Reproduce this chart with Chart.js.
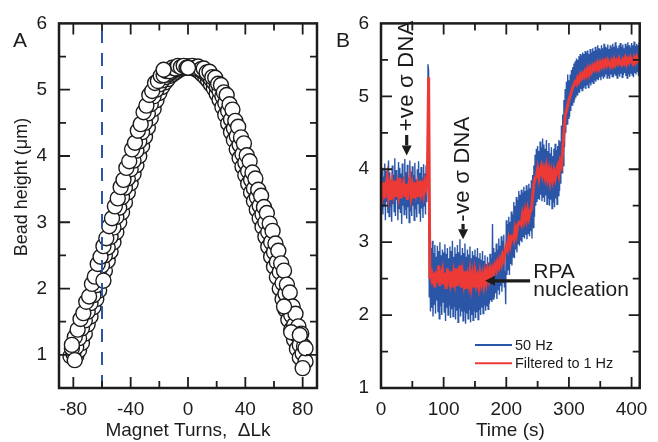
<!DOCTYPE html>
<html>
<head>
<meta charset="utf-8">
<script src="https://cdn.jsdelivr.net/npm/chart.js@4.4.1/dist/chart.umd.min.js"></script>
<style>
  html, body { margin: 0; padding: 0; background: #fff; }
  #wrap { position: relative; width: 658px; height: 442px; overflow: hidden; }
  #chartA { position: absolute; left: 0; top: 0; }
  #chartB { position: absolute; left: 330px; top: 0; }
</style>
</head>
<body>
<div id="wrap">
  <canvas id="chartA" width="330" height="442"></canvas>
  <canvas id="chartB" width="328" height="442"></canvas>
</div>
<script>
// ---------- Panel A: bead height vs magnet turns ----------
const turnStep = 2;
const sweepMidStart = -82;   // even turns, -82 .. 82
const sweepMidHeights = [
  0.98, 1.02, 1.12, 1.25, 1.40, 1.52, 1.65, 1.78, 1.90, 2.05, 2.20, 2.35, 2.50, 2.62,
  2.78, 2.92, 3.08, 3.22, 3.38, 3.52, 3.66, 3.80, 3.93, 4.08, 4.22, 4.36, 4.50, 4.64,
  4.78, 4.90, 5.00, 5.08, 5.14, 5.19, 5.23, 5.26, 5.29, 5.31, 5.33, 5.34, 5.35, 5.35,
  5.35, 5.34, 5.33, 5.31, 5.28, 5.25, 5.21, 5.16, 5.11, 5.05, 4.98, 4.90, 4.80, 4.68,
  4.55, 4.42, 4.30, 4.17, 4.03, 3.90, 3.77, 3.64, 3.51, 3.38, 3.25, 3.12, 3.00, 2.85,
  2.70, 2.55, 2.40, 2.25, 2.08, 1.92, 1.75, 1.60, 1.45, 1.30, 1.15, 1.02, 0.90
];
const sweepOuterStart = -81; // odd turns, -81 .. 81
const sweepOuterHeights = [
  1.10, 1.27, 1.38, 1.54, 1.63, 1.80, 1.88, 2.07, 2.18, 2.37, 2.48, 2.64, 2.76, 2.94,
  3.06, 3.24, 3.36, 3.53, 3.64, 3.82, 3.92, 4.10, 4.20, 4.38, 4.48, 4.66, 4.76, 4.92,
  4.98, 5.10, 5.13, 5.21, 5.22, 5.28, 5.28, 5.33, 5.32, 5.36, 5.34, 5.36, 5.33,
  5.34, 5.36, 5.33, 5.35, 5.31, 5.32, 5.26, 5.27, 5.19, 5.18, 5.09, 5.07, 4.96, 4.92,
  4.78, 4.70, 4.53, 4.44, 4.28, 4.19, 4.01, 3.92, 3.75, 3.66, 3.49, 3.40, 3.23, 3.14,
  2.98, 2.87, 2.68, 2.57, 2.38, 2.27, 2.06, 1.94, 1.73, 1.62, 1.43, 1.32, 1.13
];
const sweepInnerStart = -78; // even turns, -78 .. 78
const sweepInnerHeights = [
  0.98, 1.07, 1.18, 1.32, 1.46, 1.58, 1.72, 1.84, 1.97, 2.12, 2.27, 2.42, 2.56, 2.70,
  2.85, 3.00, 3.15, 3.30, 3.45, 3.59, 3.73, 3.86, 4.00, 4.15, 4.29, 4.43, 4.57, 4.71,
  4.84, 4.95, 5.04, 5.11, 5.16, 5.21, 5.24, 5.27, 5.30, 5.32, 5.33, 5.34,
  5.33, 5.32, 5.30, 5.27, 5.23, 5.19, 5.14, 5.08, 5.02, 4.94, 4.85, 4.74, 4.62, 4.49,
  4.36, 4.24, 4.10, 3.97, 3.84, 3.71, 3.58, 3.45, 3.32, 3.19, 3.06, 2.93, 2.78, 2.63,
  2.48, 2.33, 2.17, 2.00, 1.84, 1.68, 1.53, 1.38, 1.23, 1.09, 0.96
];
const strayTurns   = [-81, -79, -59, -17, 67, 72, 78, 80, 82, 0];
const strayHeights = [1.15, 0.92, 2.12, 5.30, 1.73, 1.34, 1.30, 0.80, 1.10, 5.33];
const markerTurn = -60;

const turnTicks = [-80, -60, -40, -20, 0, 20, 40, 60, 80];
const turnLabels = [-80, -40, 0, 40, 80];
const heightTicksA = [1, 1.5, 2, 2.5, 3, 3.5, 4, 4.5, 5, 5.5, 6];
const heightLabels = [1, 2, 3, 4, 5, 6];

// ---------- Panel B: bead height vs time ----------
const rawStep = 1;   // s, 50 Hz trace shown once per second
const rawHeights = [
  3.95, 3.45, 4.02, 3.38, 3.90, 3.50, 4.08, 3.30, 3.98, 3.55,
  3.88, 3.40, 4.12, 3.35, 3.96, 3.48, 3.85, 3.28, 4.05, 3.52,
  3.92, 3.42, 4.15, 3.36, 3.99, 3.58, 3.86, 3.30, 4.10, 3.46,
  4.02, 3.40, 3.94, 3.25, 4.08, 3.50, 3.90, 3.38, 4.14, 3.44,
  3.96, 3.32, 4.06, 3.48, 3.88, 3.27, 4.12, 3.42, 3.97, 3.36,
  4.04, 3.50, 3.92, 3.30, 4.09, 3.45, 3.86, 3.34, 4.00, 3.52,
  4.11, 3.40, 3.95, 3.28, 4.03, 3.46, 3.89, 3.33, 4.07, 3.50,
  3.94, 3.38, 4.05, 3.55, 3.98, 5.44, 5.35, 2.25, 2.90, 2.05,
  2.92, 2.10, 3.02, 1.98, 2.85, 2.15, 2.96, 2.02, 2.80, 2.20,
  2.95, 2.05, 2.88, 1.95, 3.00, 2.12, 2.82, 2.00, 2.90, 2.18,
  2.86, 2.04, 2.97, 1.92, 2.84, 2.10, 2.92, 2.00, 2.78, 2.14,
  2.94, 1.96, 2.88, 2.08, 3.02, 1.98, 2.80, 2.12, 2.93, 1.94,
  2.84, 2.06, 2.96, 1.90, 2.86, 2.10, 3.04, 1.98, 2.82, 2.05,
  2.92, 1.92, 2.85, 2.06, 2.98, 1.88, 2.80, 2.02, 2.90, 1.95,
  2.83, 2.08, 2.94, 1.90, 2.78, 2.00, 2.88, 1.93, 2.82, 2.06,
  2.90, 1.96, 2.80, 2.04, 2.92, 1.94, 2.78, 2.08, 2.85, 2.00,
  2.76, 2.10, 2.88, 2.02, 2.74, 2.14, 2.82, 2.06, 2.70, 2.12,
  2.80, 2.08, 2.72, 2.16, 2.84, 2.20, 2.78, 2.18, 3.25, 2.22,
  2.92, 2.24, 2.86, 2.30, 2.98, 2.22, 2.90, 2.35, 3.05, 2.28,
  2.95, 2.40, 3.08, 2.32, 3.02, 2.45, 3.10, 2.38, 2.60, 2.15,
  3.30, 2.55, 3.25, 2.62, 3.35, 2.55, 3.28, 2.70, 3.42, 2.68,
  3.38, 2.80, 3.55, 2.78, 3.50, 2.90, 3.62, 2.86, 3.58, 2.98,
  3.70, 2.95, 3.65, 3.02, 3.72, 3.00, 3.68, 3.08, 3.76, 3.05,
  3.70, 3.10, 3.78, 3.04, 3.72, 3.12, 3.80, 3.08, 3.74, 3.15,
  3.85, 3.05, 3.92, 3.20, 4.05, 3.35, 4.20, 3.50, 4.28, 3.55,
  4.32, 3.60, 4.25, 3.58, 4.38, 3.65, 4.30, 3.56, 4.42, 3.62,
  4.34, 3.55, 4.28, 3.64, 4.40, 3.52, 4.25, 3.60, 4.36, 3.50,
  4.22, 3.58, 4.30, 3.46, 4.18, 3.55, 4.28, 3.48, 4.35, 3.60,
  4.26, 3.52, 4.32, 3.64, 4.40, 3.70, 4.38, 3.80, 4.60, 3.95,
  4.75, 4.05, 4.95, 4.30, 5.10, 4.50, 5.20, 4.62, 5.30, 4.70,
  5.22, 4.72, 5.30, 4.80, 5.36, 4.88, 5.40, 4.92, 5.45, 4.95,
  5.48, 4.98, 5.52, 5.02, 5.50, 5.06, 5.55, 5.05, 5.58, 5.10,
  5.56, 5.08, 5.60, 5.12, 5.58, 5.14, 5.62, 5.10, 5.60, 5.16,
  5.63, 5.12, 5.58, 5.18, 5.65, 5.15, 5.60, 5.20, 5.66, 5.18,
  5.62, 5.22, 5.68, 5.20, 5.64, 5.24, 5.70, 5.22, 5.66, 5.26,
  5.64, 5.22, 5.70, 5.28, 5.66, 5.24, 5.72, 5.26, 5.68, 5.30,
  5.66, 5.25, 5.71, 5.28, 5.65, 5.24, 5.70, 5.30, 5.67, 5.27,
  5.72, 5.26, 5.68, 5.30, 5.74, 5.28, 5.69, 5.25, 5.66, 5.30,
  5.70, 5.27, 5.73, 5.31, 5.68, 5.26, 5.71, 5.29, 5.66, 5.32,
  5.72, 5.28, 5.69, 5.25, 5.74, 5.30, 5.70, 5.27, 5.67, 5.31,
  5.73, 5.29, 5.70, 5.26, 5.75, 5.32, 5.69, 5.30, 5.72, 5.34,
  5.70, 5.28, 5.74, 5.33
];
const filtStep = 2;  // s
const filtHeights = [
  3.72, 3.64, 3.82, 3.60, 3.76, 3.88, 3.64, 3.76, 3.58, 3.80,
  3.68, 3.84, 3.62, 3.78, 3.66, 3.88, 3.60, 3.76, 3.82, 3.62,
  3.80, 3.58, 3.74, 3.86, 3.64, 3.76, 3.60, 3.82, 3.68, 3.78,
  3.62, 3.84, 3.68, 3.77, 3.66, 3.82, 3.74,
  3.85, 5.26, 2.50,
  2.64, 2.42, 2.58, 2.38, 2.60, 2.45, 2.68, 2.40, 2.55, 2.62,
  2.42, 2.58, 2.36, 2.64, 2.48, 2.42, 2.60, 2.38, 2.57, 2.46,
  2.64, 2.40, 2.54, 2.68, 2.38, 2.57, 2.44, 2.60, 2.36, 2.52,
  2.42, 2.58, 2.40, 2.54, 2.38, 2.57, 2.43, 2.52, 2.40, 2.56,
  2.44, 2.54, 2.42, 2.57, 2.46, 2.60, 2.50, 2.62, 2.54, 2.64,
  2.58, 2.68, 2.62, 2.72, 2.66, 2.76, 2.70, 2.82, 2.76, 2.87,
  2.95, 2.90, 3.04, 2.96, 3.08, 3.08, 3.03, 3.18, 3.10, 3.22,
  3.27, 3.28, 3.24, 3.38, 3.30, 3.42, 3.32, 3.44, 3.34, 3.42,
  3.45, 3.62, 3.80, 3.88, 3.90, 4.00, 3.88, 3.98, 4.04, 3.92,
  4.00, 3.90, 4.02, 3.88, 3.98, 3.84, 3.96, 3.86, 3.97, 3.88,
  3.98, 4.04, 3.94, 4.10, 4.05, 4.25, 4.50, 4.72, 4.80, 4.88,
  4.95, 5.00, 5.06, 5.12, 5.16, 5.20, 5.17, 5.25, 5.21, 5.29,
  5.25, 5.31, 5.27, 5.34, 5.29, 5.37, 5.31, 5.39, 5.34, 5.41,
  5.37, 5.43, 5.38, 5.45, 5.39, 5.46, 5.41, 5.47, 5.42, 5.48,
  5.43, 5.49, 5.44, 5.41, 5.48, 5.43, 5.50, 5.44, 5.49, 5.45,
  5.51, 5.45, 5.43, 5.50, 5.46, 5.52, 5.45, 5.51, 5.47, 5.53,
  5.48, 5.45, 5.52, 5.47, 5.54, 5.49, 5.52
];
const timeTicks = [0, 50, 100, 150, 200, 250, 300, 350, 400];
const timeLabels = [0, 100, 200, 300, 400];
const heightTicksB = [1, 1.5, 2, 2.5, 3, 3.5, 4, 4.5, 5, 5.5, 6];

const FONT = "'Liberation Sans', Arial, Helvetica, sans-serif";
const INK = '#1c1c1c';
const BLUE = '#2b56a8';
const RED = '#ee3a36';
Chart.defaults.font.family = FONT;
Chart.defaults.color = INK;

// inward ticks on all four sides plus the box frame
const frameTicks = {
  id: 'frameTicks',
  afterDraw(chart, args, opts) {
    const { ctx, chartArea: a } = chart;
    const xs = chart.scales.x, ys = chart.scales.y;
    ctx.save();
    ctx.strokeStyle = INK;
    ctx.lineWidth = 1.8;
    ctx.beginPath();
    xs.ticks.forEach(t => {
      const px = xs.getPixelForValue(t.value);
      if (px <= a.left + 1 || px >= a.right - 1) return;
      const len = opts.xMajor.includes(t.value) ? 11 : 7;
      ctx.moveTo(px, a.bottom); ctx.lineTo(px, a.bottom - len);
      ctx.moveTo(px, a.top); ctx.lineTo(px, a.top + len);
    });
    ys.ticks.forEach(t => {
      const py = ys.getPixelForValue(t.value);
      if (py <= a.top + 1 || py >= a.bottom - 1) return;
      const len = opts.yMajor.includes(t.value) ? 11 : 7;
      ctx.moveTo(a.left, py); ctx.lineTo(a.left + len, py);
      ctx.moveTo(a.right, py); ctx.lineTo(a.right - len, py);
    });
    ctx.stroke();
    ctx.lineWidth = 2.5;
    ctx.strokeRect(a.left, a.top, a.right - a.left, a.bottom - a.top);
    ctx.restore();
  }
};

function fixedTicks(values) {
  return scale => { scale.ticks = values.map(v => ({ value: v })); };
}
function labelIf(list) {
  return value => (list.includes(value) ? String(value) : '');
}

function drawArrow(ctx, x1, y1, x2, y2) {
  const ang = Math.atan2(y2 - y1, x2 - x1);
  const head = 10, half = 5;
  const bx = x2 - head * Math.cos(ang), by = y2 - head * Math.sin(ang);
  ctx.lineWidth = 3.2;
  ctx.beginPath(); ctx.moveTo(x1, y1); ctx.lineTo(bx, by); ctx.stroke();
  ctx.beginPath();
  ctx.moveTo(x2, y2);
  ctx.lineTo(bx - half * Math.sin(ang), by + half * Math.cos(ang));
  ctx.lineTo(bx + half * Math.sin(ang), by - half * Math.cos(ang));
  ctx.closePath(); ctx.fill();
}

// panel letter, y title (A), annotations and legend (B)
const panelText = {
  id: 'panelText',
  afterDatasetsDraw(chart, args, opts) {
    const { ctx } = chart;
    const xs = chart.scales.x, ys = chart.scales.y;
    ctx.save();
    ctx.fillStyle = INK;
    ctx.strokeStyle = INK;
    ctx.textBaseline = 'alphabetic';
    ctx.textAlign = 'left';
    ctx.font = `21px ${FONT}`;
    ctx.fillText(opts.letter, opts.letterX, 47);

    if (opts.yTitle) {
      ctx.save();
      ctx.translate(22, 187);
      ctx.rotate(-Math.PI / 2);
      ctx.font = `18px ${FONT}`;
      ctx.textAlign = 'center';
      ctx.textBaseline = 'middle';
      ctx.fillText(opts.yTitle, 0, 0);
      ctx.restore();
    }

    (opts.vNotes || []).forEach(n => {
      const px = xs.getPixelForValue(n.t);
      ctx.save();
      ctx.translate(px, ys.getPixelForValue(n.textFrom));
      ctx.rotate(-Math.PI / 2);
      ctx.font = `22px ${FONT}`;
      ctx.letterSpacing = '0.3px';
      ctx.textAlign = 'left';
      ctx.textBaseline = 'middle';
      ctx.fillText(n.text, 0, 0);
      ctx.restore();
      drawArrow(ctx, px, ys.getPixelForValue(n.tail), px, ys.getPixelForValue(n.tip));
    });

    (opts.hNotes || []).forEach(n => {
      ctx.font = `21px ${FONT}`;
      ctx.textAlign = 'left';
      ctx.textBaseline = 'alphabetic';
      const tx = xs.getPixelForValue(n.t);
      n.lines.forEach((line, i) => {
        ctx.fillText(line, tx, ys.getPixelForValue(n.baseline) + i * 18.5);
      });
      const ay = ys.getPixelForValue(n.at);
      drawArrow(ctx, xs.getPixelForValue(n.tail), ay, xs.getPixelForValue(n.tip), ay);
    });

    if (opts.legend) {
      const a = chart.chartArea;
      ctx.font = `14.5px ${FONT}`;
      ctx.textBaseline = 'middle';
      ctx.textAlign = 'left';
      const sets = chart.data.datasets.slice().sort((p, q) => q.order - p.order);
      sets.forEach((ds, i) => {
        const y = a.bottom - 43 + i * 18.3;
        const x0 = a.left + 94;
        ctx.strokeStyle = ds.borderColor;
        ctx.lineWidth = 2;
        ctx.beginPath(); ctx.moveTo(x0, y); ctx.lineTo(x0 + 37, y); ctx.stroke();
        ctx.fillStyle = INK;
        ctx.fillText(ds.label, x0 + 40, y + 0.5);
      });
    }
    ctx.restore();
  }
};

function axisFont(size) { return { family: FONT, size: size }; }

// ---------- chart A ----------
const pointsA = [];
sweepInnerHeights.forEach((h, i) => pointsA.push({ x: sweepInnerStart + i * turnStep, y: h }));
sweepMidHeights.forEach((h, i) => pointsA.push({ x: sweepMidStart + i * turnStep, y: h }));
sweepOuterHeights.forEach((h, i) => pointsA.push({ x: sweepOuterStart + i * turnStep, y: h }));
strayTurns.forEach((t, i) => pointsA.push({ x: t, y: strayHeights[i] }));

new Chart(document.getElementById('chartA'), {
  type: 'scatter',
  data: {
    datasets: [
      {
        label: 'marker',
        type: 'line',
        data: [{ x: markerTurn, y: 0.5 }, { x: markerTurn, y: 6 }],
        borderColor: BLUE,
        borderWidth: 2,
        borderDash: [13, 10],
        pointRadius: 0,
        order: 0
      },
      {
        label: 'Bead height',
        data: pointsA,
        pointRadius: 7.5,
        pointBackgroundColor: '#ffffff',
        pointBorderColor: INK,
        pointBorderWidth: 1.4,
        order: 1
      }
    ]
  },
  plugins: [frameTicks, panelText],
  options: {
    responsive: false,
    animation: false,
    layout: { padding: { left: 0, right: 13, top: 15, bottom: 0 } },
    plugins: {
      legend: { display: false },
      tooltip: { enabled: false },
      frameTicks: { xMajor: turnLabels, yMajor: heightLabels },
      panelText: { letter: 'A', letterX: 13, yTitle: 'Bead height (\u03BCm)' }
    },
    scales: {
      x: {
        type: 'linear', min: -90, max: 90,
        afterBuildTicks: fixedTicks(turnTicks),
        afterFit: s => { s.height = 54; },
        grid: { display: false, drawTicks: false },
        border: { display: false },
        ticks: { callback: labelIf(turnLabels), padding: 10, autoSkip: false, maxRotation: 0, font: axisFont(19), color: INK },
        title: { display: true, text: 'Magnet Turns,  \u0394Lk', font: axisFont(19), color: INK, padding: { top: 0, bottom: 0 } }
      },
      y: {
        type: 'linear', min: 0.5, max: 6,
        afterBuildTicks: fixedTicks(heightTicksA),
        afterFit: s => { s.width = 59; },
        grid: { display: false, drawTicks: false },
        border: { display: false },
        ticks: { callback: labelIf(heightLabels), padding: 12, autoSkip: false, font: axisFont(19), color: INK }
      }
    }
  }
});

// ---------- chart B ----------
const rawPoints = rawHeights.map((h, i) => ({ x: i * rawStep, y: h }));
const filtPoints = filtHeights.map((h, i) => ({ x: i * filtStep, y: h }));

new Chart(document.getElementById('chartB'), {
  type: 'line',
  data: {
    datasets: [
      { label: '50 Hz', data: rawPoints, borderColor: BLUE, borderWidth: 1.4, pointRadius: 0, tension: 0, order: 1 },
      { label: 'Filtered to 1 Hz', data: filtPoints, borderColor: RED, borderWidth: 3, pointRadius: 0, tension: 0, order: 0 }
    ]
  },
  plugins: [frameTicks, panelText],
  options: {
    responsive: false,
    animation: false,
    layout: { padding: { left: 0, right: 18, top: 15, bottom: 0 } },
    plugins: {
      legend: { display: false },
      tooltip: { enabled: false },
      frameTicks: { xMajor: timeLabels, yMajor: heightLabels },
      panelText: {
        letter: 'B', letterX: 6, legend: true,
        vNotes: [
          { text: '+ve \u03C3 DNA', t: 41, textFrom: 4.52, tail: 4.47, tip: 4.19 },
          { text: '-ve \u03C3 DNA', t: 131, textFrom: 3.28, tail: 3.25, tip: 3.04 }
        ],
        hNotes: [
          { lines: ['RPA', 'nucleation'], t: 243, baseline: 2.515, at: 2.47, tail: 238, tip: 166 }
        ]
      }
    },
    scales: {
      x: {
        type: 'linear', min: 0, max: 413,
        afterBuildTicks: fixedTicks(timeTicks),
        afterFit: s => { s.height = 54; },
        grid: { display: false, drawTicks: false },
        border: { display: false },
        ticks: { callback: labelIf(timeLabels), padding: 10, autoSkip: false, maxRotation: 0, font: axisFont(19), color: INK },
        title: { display: true, text: 'Time (s)', font: axisFont(19), color: INK, padding: { top: 0, bottom: 0 } }
      },
      y: {
        type: 'linear', min: 1, max: 6,
        afterBuildTicks: fixedTicks(heightTicksB),
        afterFit: s => { s.width = 51; },
        grid: { display: false, drawTicks: false },
        border: { display: false },
        ticks: { callback: labelIf(heightLabels), padding: 12, autoSkip: false, font: axisFont(19), color: INK }
      }
    }
  }
});
</script>
</body>
</html>
